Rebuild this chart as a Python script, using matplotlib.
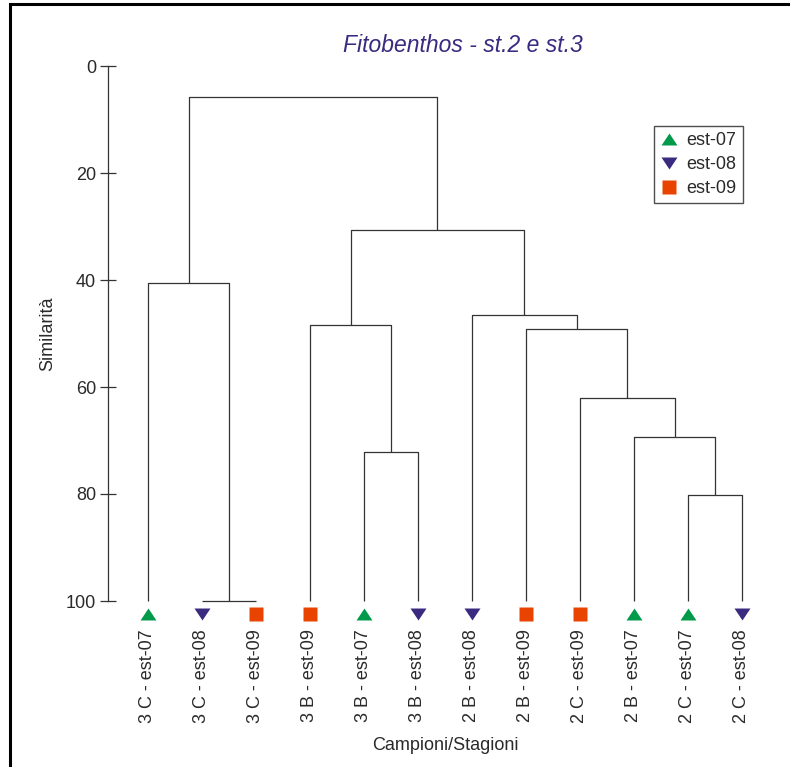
import matplotlib
matplotlib.use('Agg')
import matplotlib.pyplot as plt
from matplotlib.lines import Line2D
from matplotlib.patches import Rectangle

# campioni nell'ordine del dendrogramma
leaf_labels = ['3 C - est-07', '3 C - est-08', '3 C - est-09', '3 B - est-09',
               '3 B - est-07', '3 B - est-08', '2 B - est-08', '2 B - est-09',
               '2 C - est-09', '2 B - est-07', '2 C - est-07', '2 C - est-08']
leaf_season = ['est-07', 'est-08', 'est-09', 'est-09', 'est-07', 'est-08',
               'est-08', 'est-09', 'est-09', 'est-07', 'est-07', 'est-08']

# fusioni: (figlio sinistro, figlio destro, similarita'); nodi nuovi numerati da 12
merge_left = [1, 0, 4, 3, 10, 9, 8, 7, 6, 15, 13]
merge_right = [2, 12, 5, 14, 11, 16, 17, 18, 19, 20, 21]
merge_sim = [100.0, 40.5, 72.1, 48.4, 80.2, 69.3, 62.1, 49.1, 46.5, 30.6, 5.8]

seasons = ['est-07', 'est-08', 'est-09']
season_colors = {'est-07': '#009a4a', 'est-08': '#3a2a80', 'est-09': '#e84400'}

up_tri = [(-1, -0.75), (1, -0.75), (0, 0.75)]
down_tri = [(-1, 0.75), (1, 0.75), (0, -0.75)]
season_markers = {'est-07': up_tri, 'est-08': down_tri, 'est-09': 's'}
season_ms = {'est-07': 11.5, 'est-08': 11.5, 'est-09': 10}

text_col = '#2a2a2a'
line_col = '#333333'

plt.rcParams['font.family'] = ['Liberation Sans', 'DejaVu Sans']

W, H = 790, 767
fig = plt.figure(figsize=(W / 100, H / 100), dpi=100)
ax = fig.add_axes([108 / W, (H - 601) / H, (782 - 108) / W, (601 - 66) / H])

n = len(leaf_labels)
xpos = {i: i + 1 for i in range(n)}
ypos = {i: 100.0 for i in range(n)}

for k, (a, b, s) in enumerate(zip(merge_left, merge_right, merge_sim)):
    node = n + k
    xa, xb = xpos[a], xpos[b]
    ax.plot([xa, xa, xb, xb], [ypos[a], s, s, ypos[b]], color=line_col,
            lw=0.9, clip_on=False, solid_capstyle='butt')
    xpos[node] = (xa + xb) / 2
    ypos[node] = s

# simboli sotto le foglie
for i, season in enumerate(leaf_season):
    ax.plot(xpos[i], 102.4, marker=season_markers[season], ms=season_ms[season],
            color=season_colors[season], mec='none', clip_on=False)

ax.set_ylim(100, 0)
ax.set_xlim(1 - 40 / 54, 1 + (782 - 148) / 54)
ax.set_yticks([0, 20, 40, 60, 80, 100])
ax.set_xticks(range(1, n + 1))
ax.set_xticklabels(leaf_labels, rotation=90, va='top', fontsize=13, color=text_col)

for side in ['top', 'right', 'bottom']:
    ax.spines[side].set_visible(False)
ax.spines['left'].set_color(line_col)
ax.spines['left'].set_linewidth(0.9)
ax.tick_params(axis='y', direction='inout', length=12, width=0.9, color=line_col,
               labelsize=13, labelcolor=text_col, pad=2.5)
ax.tick_params(axis='x', length=0, pad=20.5)

ax.set_ylabel('Similarità', fontsize=13, color=text_col, labelpad=7)
ax.set_xlabel('Campioni/Stagioni', fontsize=13, color=text_col, labelpad=10)

fig.text(463 / W, 1 - 45 / H, 'Fitobenthos - st.2 e st.3', fontsize=16.5,
         style='italic', color='#3a2a80', ha='center', va='center')

handles = [Line2D([], [], ls='none', marker=season_markers[s], ms=season_ms[s],
                  color=season_colors[s], mec='none') for s in seasons]
leg = fig.legend(handles, seasons, loc='upper right',
                 bbox_to_anchor=(743 / W, 1 - 126 / H), fontsize=13,
                 frameon=True, fancybox=False, edgecolor='#222222',
                 borderpad=0.35, labelspacing=0.38, handlelength=1.0,
                 handletextpad=0.45, borderaxespad=0)
leg.get_frame().set_linewidth(1.0)
for t in leg.get_texts():
    t.set_color(text_col)

# cornice esterna
fig.add_artist(Rectangle((9.5 / W, -0.05), 1.1, 1 - 3.5 / H + 0.05,
                         transform=fig.transFigure, fill=False,
                         edgecolor='black', lw=2.2))

fig.savefig('out.png', dpi=100)
